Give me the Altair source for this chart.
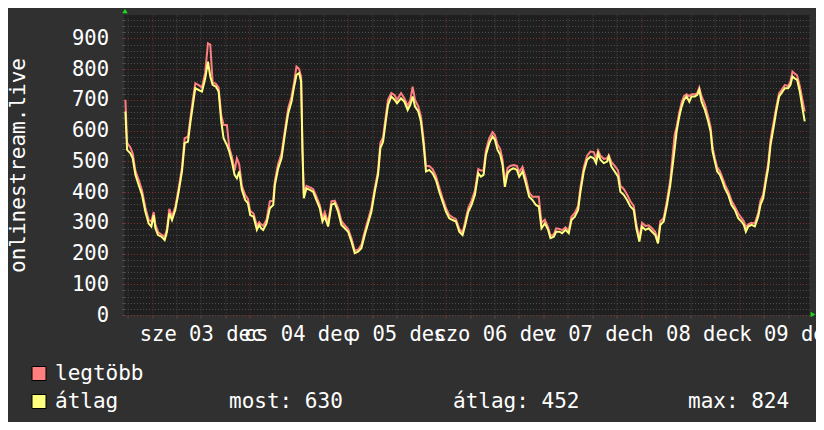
import altair as alt
import pandas as pd

# hours after 2025-12-03 00:00
HOURS = [-6.53, -6.12, -5.31, -4.73, -4.08, -3.27, -2.45, -1.63, -0.82, -0.16, 0.41, 0.82, 1.47, 2.29, 3.10, 3.67,
         4.24, 4.90, 5.71, 6.53, 7.35, 8.00, 8.82, 9.39, 9.96, 10.61, 11.43, 12.25, 13.06, 13.71, 14.29, 14.86,
         15.67, 16.33, 16.98, 17.55, 18.37, 18.94, 19.59, 20.25, 20.82, 21.39, 22.04, 22.86, 23.51, 24.08, 24.90,
         25.72, 26.29, 26.78,
         27.27, 28.08, 28.90, 29.72, 30.12, 30.94, 31.76, 32.57, 33.39, 34.21, 34.78, 35.43, 36.08, 36.57, 36.90,
         37.23, 37.88, 38.70, 39.51, 40.33, 41.15, 41.80, 42.37, 43.19, 44.01, 44.82, 45.64, 46.45, 47.27, 48.09,
         48.90, 49.72, 50.53, 51.35, 52.17, 52.98, 53.80, 54.62, 55.43, 56.00, 56.66, 57.31, 57.88, 58.70, 59.51,
         60.09,
         61.07, 61.88, 62.70, 63.35, 63.92, 64.50, 65.31, 65.96, 66.62, 67.19, 68.01, 68.82, 69.64, 70.45, 71.27,
         72.09, 72.90, 73.72, 74.54, 75.35, 76.17, 76.82, 77.56, 78.37, 79.19, 80.01, 80.66, 81.31, 81.88, 82.70,
         83.52, 84.09, 84.74, 85.40, 85.97, 86.54, 87.19, 87.85, 88.67, 89.48, 90.05, 90.87, 91.69, 92.50, 93.32,
         94.14,
         94.86, 95.52, 96.33, 97.15, 97.72, 98.54, 99.11, 99.93, 100.58, 101.40, 102.21, 102.87, 103.68, 104.50,
         105.07, 105.89, 106.70, 107.52, 108.34, 108.91, 109.40, 109.97, 110.79, 111.60, 112.01, 112.66, 113.48,
         114.30, 114.87, 115.69, 116.50, 117.32, 118.14, 118.79, 119.52, 120.17, 120.99, 121.81, 122.62, 123.44,
         124.09, 124.66, 125.48, 126.29, 127.11, 128.17,
         128.66, 129.32, 129.89, 130.46, 131.11, 131.77, 132.34, 133.15, 133.72, 134.21, 134.78, 135.60, 136.42,
         136.99, 137.48, 138.05, 138.62, 139.28, 139.93, 140.50, 141.32, 142.13, 142.95, 143.77, 144.58, 145.15,
         145.64, 146.22, 147.03, 147.85, 148.66, 149.23, 149.89, 150.54, 151.11, 151.69, 152.33, 153.15, 153.80,
         154.37, 155.19, 156.01, 156.58, 157.07, 157.64, 158.21, 158.87, 159.52, 160.08]

AVG = [662, 537, 526, 510, 456, 423, 391, 336, 298, 288, 325, 282, 260, 255, 244, 271,
       331, 309, 342, 401, 467, 559, 564, 624, 678, 738, 732, 727, 770, 824, 776, 749,
       743, 727, 629, 575, 553, 532, 499, 456, 445, 467, 407, 374, 364, 325, 320,
       277, 293, 282,
       277, 298, 347, 358, 423, 477, 510, 586, 656, 694, 738, 781, 787, 760, 532,
       380, 412, 407, 401, 374, 347, 304, 320, 288, 358, 364, 336, 293, 282, 271,
       239, 201, 206, 217, 260, 298, 336, 401, 456, 543, 564, 629, 684, 711, 700,
       689,
       705, 694, 667, 684, 711, 678, 662, 629, 553, 467, 472, 461, 439, 401, 369,
       336, 315, 309, 304, 271, 260, 293, 336, 358, 391, 461, 450, 456, 521, 559,
       581, 570, 537, 521, 488, 417, 461, 472, 477, 472, 450, 467, 428, 385, 374,
       358,
       353, 282, 298, 277, 250, 255, 271, 271, 266, 277, 266, 309, 320, 342,
       401, 467, 505, 515, 510, 494, 526, 505, 494, 499, 515, 483, 467,
       450, 401, 391, 374, 353, 342, 282, 239, 288, 277, 282, 271, 260,
       233, 293, 304, 358, 423, 540,
       597, 646, 678, 700, 711, 694, 711, 711, 716, 733, 694, 667, 629,
       597, 532, 499, 467, 456, 434, 412, 391, 358, 342, 315, 304, 293,
       271, 288, 293, 288, 320, 358, 380, 434, 477, 553, 602, 667, 711,
       722, 738, 738, 749, 776, 770, 765, 727, 673, 630]

MAX = [700, 560, 545, 525, 470, 440, 405, 350, 310, 304, 335, 295, 270, 262, 255, 280,
       345, 320, 352, 412, 480, 575, 580, 640, 695, 754, 748, 740, 790, 884, 880, 757,
       752, 740, 650, 618, 618, 545, 515, 470, 510, 490, 420, 390, 378, 338, 330,
       290, 302, 295,
       290, 310, 370, 372, 435, 492, 525, 600, 672, 710, 752, 808, 800, 775, 545,
       392, 420, 415, 410, 385, 358, 315, 335, 300, 370, 372, 348, 305, 292, 280,
       250, 210, 212, 228, 272, 310, 348, 412, 468, 560, 578, 645, 700, 722, 715,
       700,
       722, 705, 680, 700, 743, 700, 678, 645, 570, 485, 485, 475, 452, 415, 380,
       348, 325, 318, 312, 280, 268, 305, 348, 372, 405, 475, 470, 470, 535, 575,
       595, 585, 555, 540, 505, 430, 478, 485, 488, 485, 465, 482, 445, 398, 385,
       385,
       385, 300, 310, 285, 258, 262, 282, 280, 276, 285, 275, 320, 332, 355,
       415, 480, 518, 532, 530, 510, 535, 518, 508, 510, 520, 498, 485,
       470, 420, 410, 392, 370, 355, 295, 250, 300, 290, 292, 282, 270,
       240, 305, 315, 372, 440, 586,
       612, 660, 692, 712, 718, 712, 718, 718, 722, 740, 712, 685, 645,
       612, 545, 510, 480, 468, 445, 425, 402, 372, 352, 330, 315, 305,
       285, 295, 300, 298, 332, 372, 392, 448, 492, 570, 618, 680, 722,
       732, 748, 745, 760, 792, 785, 780, 745, 700, 662]

SERIES = ["legtöbb", "átlag"]
COLORS = ["#ff7f7f", "#ffff7f"]
DAY_LABELS = ["sze 03 dec", "cs 04 dec", "p 05 dec", "szo 06 dec", "v 07 dec", "h 08 dec", "k 09 dec"]
LABEL_HOURS = [12, 36, 60, 84, 108, 132, 156]
STATS = ["most: 630", "átlag: 452", "max: 824"]
Y_TITLE = "onlinestream.live"

FONT = "DejaVu Sans Mono"
BG = "#303030"
PLOT_BG = "#1f1f1f"
MAJOR = "#7a3333"
MINOR = "#4d4d4d"
ARROW = "#1ed81e"

rows = []
for name, vals in zip(SERIES, [MAX, AVG]):
    for h, v in zip(HOURS, vals):
        rows.append({"h": h, "v": v, "series": name})
df = pd.DataFrame(rows)

label_expr = " : ".join(
    f"datum.value === {h} ? '{t}'" for h, t in zip(LABEL_HOURS, DAY_LABELS)
) + " : ''"

x_axis = alt.Axis(
    values=list(range(-6, 162, 6)),
    labelExpr=label_expr,
    labelOverlap=False, labelBound=False, labelFlush=False,
    labelFont=FONT, labelFontSize=20.5, labelColor="#ffffff", labelPadding=6,
    tickSize=3,
    tickColor=alt.condition("datum.value % 24 === 0", alt.value(MAJOR), alt.value(MINOR)),
    gridColor=alt.condition("datum.value % 24 === 0", alt.value(MAJOR), alt.value(MINOR)),
    gridDash=[1, 2], gridWidth=1, gridOpacity=1,
    domain=False, title=None,
)
y_axis = alt.Axis(
    values=list(range(0, 980, 20)),
    labelExpr="datum.value % 100 === 0 ? datum.label : ''",
    labelFont=FONT, labelFontSize=20.5, labelColor="#ffffff", labelPadding=13,
    tickSize=3,
    tickColor=alt.condition("datum.value % 100 === 0", alt.value(MAJOR), alt.value(MINOR)),
    gridColor=alt.condition("datum.value % 100 === 0", alt.value(MAJOR), alt.value(MINOR)),
    gridDash=[1, 2], gridWidth=1, gridOpacity=1,
    domain=False,
    title=Y_TITLE, titleFont=FONT, titleFontSize=21, titleColor="#ffffff", titleFontWeight="normal",
    titleX=-106, titleY=150, titleAngle=270, titleAlign="center", titleBaseline="middle",
)

x_scale = alt.Scale(domain=[-6.75, 161.25], nice=False, zero=False)
y_scale = alt.Scale(domain=[0, 976], nice=False)

lines = alt.Chart(df).mark_line(strokeWidth=2, interpolate="linear").encode(
    x=alt.X("h:Q", scale=x_scale, axis=x_axis),
    y=alt.Y("v:Q", scale=y_scale, axis=y_axis),
    color=alt.Color("series:N", scale=alt.Scale(domain=SERIES, range=COLORS), legend=None),
    order=alt.Order("h:Q"),
)

one = pd.DataFrame({"k": [0]})

# legend swatches and labels (bottom-left)
layers = [lines]
for i, (name, col) in enumerate(zip(SERIES, COLORS)):
    yy = 358.5 + 28 * i
    layers.append(alt.Chart(one).mark_square(size=196, filled=True, color=col, stroke="#000000",
                                             strokeWidth=1, opacity=1).encode(
        x=alt.value(-85.5), y=alt.value(yy)))
    layers.append(alt.Chart(one).mark_text(font=FONT, fontSize=21, color="#ffffff", align="left",
                                           baseline="middle", text=name).encode(
        x=alt.value(-69.5), y=alt.value(yy)))

for txt, xx in zip(STATS, [104.5, 328.5, 563.5]):
    layers.append(alt.Chart(one).mark_text(font=FONT, fontSize=21, color="#ffffff", align="left",
                                           baseline="middle", text=txt).encode(
        x=alt.value(xx), y=alt.value(386.5)))

# green axis arrows
layers.append(alt.Chart(one).mark_point(shape="triangle-up", filled=True, size=30, color=ARROW, opacity=1).encode(
    x=alt.value(0.5), y=alt.value(-4)))
layers.append(alt.Chart(one).mark_point(shape="triangle-right", filled=True, size=30, color=ARROW, opacity=1).encode(
    x=alt.value(688.5), y=alt.value(299.5)))

chart = alt.layer(*layers).properties(
    width=685, height=300, background=BG,
    padding={"left": 116.5, "top": 7, "right": 6.5, "bottom": 107},
    autosize=alt.AutoSizeParams(type="none"),
).configure_view(fill=PLOT_BG, stroke=None)

chart.save("out.html", embed_options={"renderer": "svg", "actions": False})
